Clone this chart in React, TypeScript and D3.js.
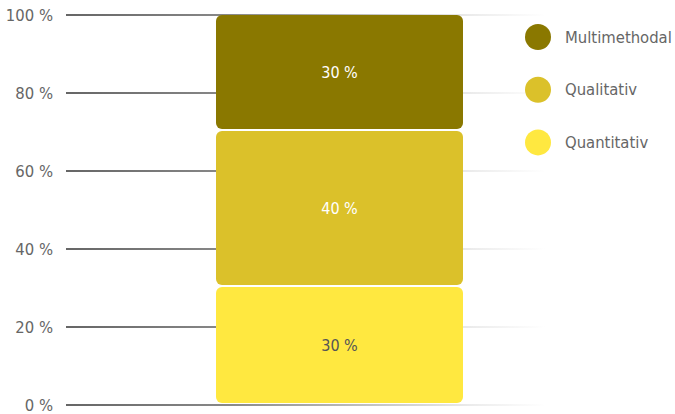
import React from "react";
import * as d3 from "d3";

const categories = ["Quantitativ", "Qualitativ", "Multimethodal"];
const values = [30, 40, 30];
const colors = ["#ffe840", "#dbc12a", "#8a7800"];
const labelColors = ["#555555", "#ffffff", "#ffffff"];
const legendOrder = ["Multimethodal", "Qualitativ", "Quantitativ"];
const yTicks = [0, 20, 40, 60, 80, 100];

const W = 675;
const H = 414;
const FONT = "'DejaVu Sans Condensed', 'DejaVu Sans', sans-serif";

export default function App() {
  const y = d3.scaleLinear().domain([0, 100]).range([405, 15]);
  const bx0 = 216;
  const bx1 = 463;
  let acc = 0;
  const segs = values.map((v, i) => {
    const s = { cat: categories[i], v, y0: acc, y1: acc + v, i };
    acc += v;
    return s;
  });
  return (
    <div style={{ position: "absolute", left: 0, top: 0 }}>
      <svg width={W} height={H} style={{ display: "block" }}>
        <defs>
          <linearGradient id="grid" gradientUnits="userSpaceOnUse" x1={66} x2={545} y1={0} y2={0}>
            <stop offset="0" stopColor="#666666" />
            <stop offset="0.35" stopColor="#8a8a8a" />
            <stop offset="0.85" stopColor="#ececec" />
            <stop offset="1" stopColor="#ffffff" />
          </linearGradient>
        </defs>
        {yTicks.map((t) => (
          <g key={t}>
            <rect x={66} y={y(t) - 1} width={479} height={2} fill="url(#grid)" />
            <text
              x={53}
              y={y(t)}
              dy="0.35em"
              textAnchor="end"
              fontFamily={FONT}
              fontSize={16.5}
              fill="#666"
            >
              {t} %
            </text>
          </g>
        ))}
        {segs.map((s) => {
          const top = s.y1 === 100 ? y(100) : y(s.y1) - 1;
          const bot = s.y0 === 0 ? y(0) - 2 : y(s.y0) - 3;
          return (
            <g key={s.cat}>
              <rect x={bx0} y={top} width={bx1 - bx0} height={bot - top} rx={6} ry={6} fill={colors[s.i]} />
              <text
                x={(bx0 + bx1) / 2}
                y={(top + bot) / 2}
                dy="0.35em"
                textAnchor="middle"
                fontFamily={FONT}
                fontSize={16}
                fill={labelColors[s.i]}
              >
                {s.v} %
              </text>
            </g>
          );
        })}
        {legendOrder.map((c, i) => {
          const idx = categories.indexOf(c);
          const cy = 37 + i * 52.7;
          return (
            <g key={c}>
              <circle cx={538} cy={cy} r={13} fill={colors[idx]} />
              <text x={565} y={cy} dy="0.35em" fontFamily={FONT} fontSize={16.5} fill="#666">
                {c}
              </text>
            </g>
          );
        })}
      </svg>
    </div>
  );
}
